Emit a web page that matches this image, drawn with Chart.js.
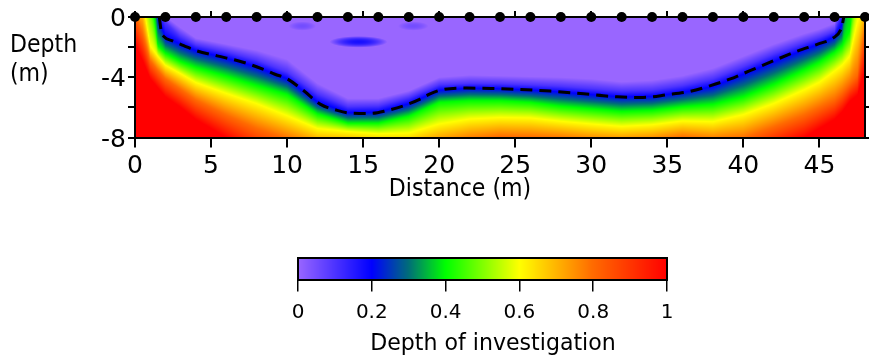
<!DOCTYPE html>
<html>
<head>
<meta charset="utf-8">
<script src="https://cdn.jsdelivr.net/npm/chart.js@4.4.1/dist/chart.umd.min.js"></script>
<style>
  body { margin: 0; background: #fff; }
  #wrap { position: relative; width: 869px; height: 358px; overflow: hidden; font-family: 'DejaVu Sans', sans-serif; color: #000; }
  #doiChart { position: absolute; left: 0; top: 0; }
  #scaleChart { position: absolute; left: 0; top: 200px; }
  .label { position: absolute; font-size: 24px; line-height: 28px; white-space: nowrap; }
  #depthTitle { left: 10px; top: 30px; line-height: 29px; transform: scaleX(0.92); transform-origin: left center; }
  #distanceTitle { left: 310px; top: 174px; width: 300px; text-align: center; transform: scaleX(0.92); }
  #scaleTitle { left: 343px; top: 328px; width: 300px; text-align: center; font-size: 23px; transform: scaleX(0.96); }
</style>
</head>
<body>
<div id="wrap">
  <canvas id="doiChart" width="869" height="200"></canvas>
  <canvas id="scaleChart" width="869" height="158"></canvas>
  <div class="label" id="depthTitle">Depth<br>(m)</div>
  <div class="label" id="distanceTitle">Distance (m)</div>
  <div class="label" id="scaleTitle">Depth of investigation</div>
</div>
<script>
// Depth of investigation section with electrode line and colour scale
Chart.defaults.font.family = 'DejaVu Sans';
Chart.defaults.color = '#000';

// columns where the DOI bands were read (m along the line)
const doiDistance = [0, 0.5, 1, 1.5, 2, 3, 4, 6, 8, 10, 12, 14, 16, 18, 20, 22, 24, 26, 28, 30, 32, 34, 36, 38, 40, 42, 44, 45, 46, 46.5, 47, 47.5, 48];
const doiLevels = [0, 0.1, 0.2, 0.4, 0.6, 0.8, 1];
// depth (m) at which each DOI level is reached in every column; positive = level lies above the surface
const depthLevel00 = [14, 12, 8, 1.2, 0.05, -0.7, -1.4, -1.8, -2.2, -2.8, -4.4, -5.4, -5.4, -4.9, -4.0, -3.85, -3.9, -3.95, -4.0, -4.1, -4.3, -4.2, -3.9, -3.4, -2.6, -1.8, -1.1, -0.8, -0.4, 1.5, 10, 12, 13];
const depthLevel01 = [13, 11, 7, 0.6, -0.35, -1.3, -1.85, -2.3, -2.85, -3.65, -5.1, -5.95, -5.9, -5.35, -4.5, -4.4, -4.42, -4.5, -4.6, -4.75, -4.9, -4.85, -4.55, -4.1, -3.3, -2.45, -1.7, -1.35, -0.95, 0.49, 9, 11, 12];
const depthLevel02 = [12, 10, 6, 0.05, -1.33, -1.81, -2.23, -2.73, -3.32, -4.1, -5.64, -6.35, -6.31, -5.76, -4.87, -4.72, -4.76, -4.85, -4.98, -5.15, -5.31, -5.27, -5.01, -4.62, -3.8, -2.97, -2.17, -1.78, -1.3, -0.49, 8.1, 10, 11];
const depthLevel04 = [5, 4, 1.9, -1.9, -2.4, -2.96, -3.35, -3.93, -4.55, -5.15, -6.44, -7.05, -7.05, -6.6, -5.67, -5.56, -5.56, -5.67, -5.93, -6.1, -6.27, -6.2, -5.96, -5.8, -5.3, -4.47, -3.51, -3.0, -2.34, -1.89, -0.9, 3.6, 5];
const depthLevel06 = [1.2, 1.1, -1.9, -2.6, -3.2, -3.76, -4.35, -5.07, -5.75, -6.55, -7.4, -7.6, -7.75, -7.7, -7.1, -6.77, -6.67, -6.7, -6.92, -7.1, -7.26, -7.15, -6.9, -6.95, -6.48, -5.74, -4.83, -4.33, -3.58, -3.19, -2.58, -0.3, 1.2];
const depthLevel08 = [0.2, -1.1, -2.9, -3.55, -4.1, -4.8, -5.5, -6.5, -7.4, -8.1, -8.7, -8.7, -8.9, -9.0, -8.6, -8.2, -7.95, -8.0, -8.1, -8.3, -8.4, -8.3, -8.0, -8.2, -8.05, -7.29, -6.5, -5.99, -5.48, -5.0, -4.43, -3.85, -0.8];
const depthLevel10 = [-1.8, -2.9, -4.1, -4.7, -5.3, -6.0, -6.8, -8.0, -9.2, -9.8, -10.2, -10, -10.2, -10.5, -10, -9.8, -9.5, -9.6, -9.7, -9.9, -10, -9.9, -9.5, -9.8, -9.6, -8.8, -8.0, -7.4, -6.8, -6.3, -5.6, -5.2, -3.5];
const levelDepths = [depthLevel00, depthLevel01, depthLevel02, depthLevel04, depthLevel06, depthLevel08, depthLevel10];

// small shallow patches of raised DOI inside the well resolved zone
const shallowLowDistance = [14.7, 11.0, 18.3];
const shallowLowDepth = [-1.65, -0.6, -0.6];
const shallowLowPeak = [0.17, 0.05, 0.05];
const shallowLowHalfLength = [1.9, 0.9, 1.0];
const shallowLowHalfThickness = [0.38, 0.3, 0.3];

// dashed DOI cut-off line
const doiLineDistance = [1.6, 1.66, 1.72, 1.9, 2.5, 3.2, 4.06, 5.4, 7.1, 8.4, 9.2, 10.0, 11.1, 12.2, 13.3, 14.1, 15.5, 16.6, 17.65, 18.75, 19.4, 20.1, 21.8, 23.4, 25.1, 27.3, 29.5, 31.7, 33.4, 35.0, 36.5, 37.8, 39.1, 40.4, 42.0, 43.6, 44.9, 45.9, 46.4, 46.55, 46.6];
const doiLineDepth = [0, -0.5, -0.95, -1.3, -1.6, -1.9, -2.25, -2.58, -3.0, -3.46, -3.8, -4.1, -4.9, -5.8, -6.2, -6.37, -6.4, -6.2, -5.9, -5.45, -5.1, -4.85, -4.72, -4.74, -4.8, -4.92, -5.1, -5.3, -5.34, -5.16, -4.94, -4.57, -4.13, -3.58, -2.9, -2.25, -1.8, -1.4, -0.86, -0.3, 0];

const electrodeDistance = [0, 2, 4, 6, 8, 10, 12, 14, 16, 18, 20, 22, 24, 26, 28, 30, 32, 34, 36, 38, 40, 42, 44, 46, 48];

const distanceTicks = [0, 5, 10, 15, 20, 25, 30, 35, 40, 45];
const distanceTickLabels = ['0', '5', '10', '15', '20', '25', '30', '35', '40', '45'];
const depthTicks = [0, -2, -4, -6, -8];
const depthTickLabels = ['0', '', '-4', '', '-8'];
const scaleTicks = [0, 0.2, 0.4, 0.6, 0.8, 1];
const scaleTickLabels = ['0', '0.2', '0.4', '0.6', '0.8', '1'];

// colour scale
const colourStops = [0, 0.2, 0.3, 0.4, 0.6, 0.8, 1];
const colourRgb = [[153, 102, 255], [0, 0, 255], [0, 110, 120], [0, 255, 0], [255, 255, 0], [255, 106, 0], [255, 0, 0]];

function colourFor(v) {
    v = Math.min(1, Math.max(0, v));
    let k = 0;
    while (k < colourStops.length - 2 && v > colourStops[k + 1]) k++;
    const t = (v - colourStops[k]) / (colourStops[k + 1] - colourStops[k]);
    const a = colourRgb[k], b = colourRgb[k + 1];
    return [a[0] + (b[0] - a[0]) * t, a[1] + (b[1] - a[1]) * t, a[2] + (b[2] - a[2]) * t];
}

// level depths for one column, following the bands between read columns
function columnDepths(dist) {
    let i = 0;
    while (i < doiDistance.length - 2 && dist > doiDistance[i + 1]) i++;
    const t = (dist - doiDistance[i]) / (doiDistance[i + 1] - doiDistance[i]);
    return levelDepths.map(arr => arr[i] + (arr[i + 1] - arr[i]) * t);
}

function valueInColumn(depths, d) {
    if (d >= depths[0]) return 0;
    for (let k = 0; k < depths.length - 1; k++) {
        if (d >= depths[k + 1]) {
            return doiLevels[k] + (doiLevels[k + 1] - doiLevels[k]) * (depths[k] - d) / (depths[k] - depths[k + 1]);
        }
    }
    return 1;
}

function shallowLowAt(dist, d) {
    let v = 0;
    shallowLowDistance.forEach((cx, i) => {
        const u = (dist - cx) / shallowLowHalfLength[i];
        const w = (d - shallowLowDepth[i]) / shallowLowHalfThickness[i];
        const r2 = u * u + w * w;
        if (r2 < 1) v = Math.max(v, shallowLowPeak[i] * (1 - r2));
    });
    return v;
}

// paints the DOI section pixel by pixel through the chart scales
const doiFieldPlugin = {
    id: 'doiField',
    beforeDraw(chart) {
        const { ctx, chartArea: area, scales } = chart;
        const w = Math.round(area.right - area.left);
        const h = Math.round(area.bottom - area.top);
        const off = document.createElement('canvas');
        off.width = w;
        off.height = h;
        const octx = off.getContext('2d');
        const img = octx.createImageData(w, h);
        for (let i = 0; i < w; i++) {
            const dist = scales.x.getValueForPixel(area.left + i + 0.5);
            const depths = columnDepths(dist);
            for (let j = 0; j < h; j++) {
                const depth = scales.y.getValueForPixel(area.top + j + 0.5);
                const v = Math.max(valueInColumn(depths, depth), shallowLowAt(dist, depth));
                const c = colourFor(v);
                const p = (j * w + i) * 4;
                img.data[p] = c[0];
                img.data[p + 1] = c[1];
                img.data[p + 2] = c[2];
                img.data[p + 3] = 255;
            }
        }
        octx.putImageData(img, 0, 0);
        ctx.drawImage(off, area.left, area.top);
    }
};

const colourBarPlugin = {
    id: 'colourBar',
    beforeDraw(chart) {
        const { ctx, chartArea: area, scales } = chart;
        for (let px = Math.floor(area.left); px < area.right; px++) {
            const c = colourFor(scales.x.getValueForPixel(px + 0.5));
            ctx.fillStyle = `rgb(${Math.round(c[0])},${Math.round(c[1])},${Math.round(c[2])})`;
            ctx.fillRect(px, area.top, 1, area.bottom - area.top);
        }
    },
    afterDraw(chart) {
        const { ctx, chartArea: area } = chart;
        ctx.save();
        ctx.strokeStyle = '#000';
        ctx.lineWidth = 2;
        ctx.strokeRect(area.left, area.top, area.right - area.left, area.bottom - area.top);
        ctx.restore();
    }
};

const frameGrid = (len) => ({ drawOnChartArea: false, color: '#000', lineWidth: 2, tickLength: len });
const frameBorder = { color: '#000', width: 2, z: 1 };
const setTicks = (values) => (scale) => { scale.ticks = values.map(v => ({ value: v })); };

new Chart(document.getElementById('doiChart'), {
    type: 'scatter',
    data: {
        datasets: [
            {
                label: 'Electrodes',
                data: electrodeDistance.map(x => ({ x: x, y: 0 })),
                pointRadius: 5,
                pointHoverRadius: 5,
                backgroundColor: '#000',
                borderWidth: 0,
                clip: false
            },
            {
                label: 'DOI',
                data: doiLineDistance.map((x, i) => ({ x: x, y: doiLineDepth[i] })),
                showLine: true,
                borderColor: '#000',
                borderWidth: 3,
                borderDash: [12, 7],
                pointRadius: 0,
                cubicInterpolationMode: 'monotone',
                fill: false
            }
        ]
    },
    options: {
        responsive: false,
        animation: false,
        devicePixelRatio: 1,
        layout: { padding: 0, autoPadding: false },
        plugins: { legend: { display: false }, tooltip: { enabled: false } },
        scales: {
            x: {
                type: 'linear', position: 'bottom', min: 0, max: 48,
                afterBuildTicks: setTicks(distanceTicks),
                afterFit: (s) => { s.height = 62.5; },
                grid: frameGrid(10), border: frameBorder,
                ticks: { font: { size: 25 }, padding: 4, maxRotation: 0, autoSkip: false, callback: (v, i) => distanceTickLabels[i] }
            },
            x2: {
                type: 'linear', position: 'top', min: 0, max: 48,
                afterBuildTicks: setTicks(distanceTicks),
                afterFit: (s) => { s.height = 16.5; },
                grid: frameGrid(6), border: frameBorder,
                ticks: { display: false }
            },
            y: {
                type: 'linear', position: 'left', min: -8, max: 0,
                afterBuildTicks: setTicks(depthTicks),
                afterFit: (s) => { s.width = 135; },
                grid: frameGrid(7), border: frameBorder,
                ticks: { font: { size: 25 }, padding: 2, labelOffset: 2.5, autoSkip: false, callback: (v, i) => depthTickLabels[i] }
            },
            y2: {
                type: 'linear', position: 'right', min: -8, max: 0,
                afterBuildTicks: setTicks(depthTicks),
                afterFit: (s) => { s.width = 4; },
                grid: frameGrid(4), border: frameBorder,
                ticks: { display: false }
            }
        }
    },
    plugins: [doiFieldPlugin]
});

new Chart(document.getElementById('scaleChart'), {
    type: 'scatter',
    data: { datasets: [] },
    options: {
        responsive: false,
        animation: false,
        devicePixelRatio: 1,
        layout: { padding: { left: 298, right: 202, top: 58, bottom: 0 }, autoPadding: false },
        plugins: { legend: { display: false }, tooltip: { enabled: false } },
        scales: {
            x: {
                type: 'linear', position: 'bottom', min: 0, max: 1,
                afterBuildTicks: setTicks(scaleTicks),
                afterFit: (s) => { s.height = 78; },
                grid: { drawOnChartArea: false, color: '#000', lineWidth: 1.5, tickLength: 11.5 },
                border: { display: false },
                ticks: { font: { size: 20 }, padding: 9, maxRotation: 0, autoSkip: false, callback: (v, i) => scaleTickLabels[i] }
            },
            y: { display: false, min: 0, max: 1 }
        }
    },
    plugins: [colourBarPlugin]
});
</script>
</body>
</html>
